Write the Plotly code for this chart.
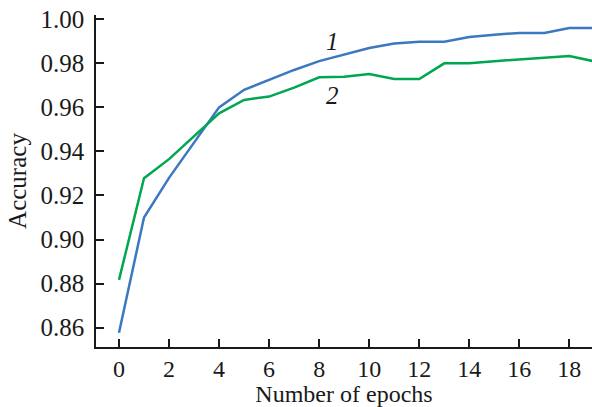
import plotly.graph_objects as go

epochs = list(range(20))
acc_1 = [0.8577, 0.910, 0.928, 0.944, 0.960, 0.968, 0.9725, 0.977, 0.981, 0.984,
         0.987, 0.989, 0.9898, 0.9898, 0.992, 0.993, 0.9938, 0.9938, 0.996, 0.996]
acc_2 = [0.8817, 0.9278, 0.9365, 0.947, 0.9573, 0.9634, 0.9649, 0.969, 0.9737, 0.9739,
         0.9752, 0.9729, 0.9729, 0.980, 0.980, 0.981, 0.9818, 0.9823, 0.9833, 0.9809]
x_ticks = [0, 2, 4, 6, 8, 10, 12, 14, 16, 18]
y_ticks = [0.86, 0.88, 0.90, 0.92, 0.94, 0.96, 0.98, 1.00]
curve_labels = ["1", "2"]
label_pos = [(8.55, 0.9899), (8.55, 0.9652)]

FONT = "Liberation Serif, Times New Roman, serif"

fig = go.Figure()
fig.add_trace(go.Scatter(x=epochs, y=acc_1, mode="lines",
                         line=dict(color="#3b78c0", width=2.5), showlegend=False))
fig.add_trace(go.Scatter(x=epochs, y=acc_2, mode="lines",
                         line=dict(color="#00a650", width=2.5), showlegend=False))

for lab, (lx, ly) in zip(curve_labels, label_pos):
    fig.add_annotation(x=lx, y=ly, text=f"<i>{lab}</i>", showarrow=False,
                       font=dict(family=FONT, size=25, color="#1a1a1a"))

fig.update_layout(
    width=592, height=407,
    margin=dict(l=96, r=0, t=15, b=60),
    paper_bgcolor="white", plot_bgcolor="white",
    font=dict(family=FONT, size=24, color="#1a1a1a"),
)
fig.update_xaxes(range=[-0.919, 18.905], tickvals=x_ticks,
                 ticktext=[str(v) for v in x_ticks], automargin=False,
                 showline=True, linecolor="#1a1a1a", linewidth=1.5,
                 ticks="inside", ticklen=8, tickwidth=1.5, tickcolor="#1a1a1a",
                 tickfont=dict(family=FONT, size=24), ticklabelstandoff=-1,
                 showgrid=False, zeroline=False,
                 title=dict(text="Number of epochs", standoff=3,
                            font=dict(family=FONT, size=24)))
fig.update_yaxes(range=[0.8512, 1.00195], tickvals=y_ticks,
                 ticktext=[f"{v:.2f}" for v in y_ticks], automargin=False,
                 showline=True, linecolor="#1a1a1a", linewidth=1.5,
                 ticks="inside", ticklen=8, tickwidth=1.5, tickcolor="#1a1a1a",
                 tickfont=dict(family=FONT, size=25), ticklabelstandoff=5,
                 showgrid=False, zeroline=False,
                 title=dict(text="Accuracy", standoff=7,
                            font=dict(family=FONT, size=25)))

fig.write_html("out.html", config={"displayModeBar": False},
               post_script="document.body.style.margin='0';document.body.style.overflow='hidden';")
